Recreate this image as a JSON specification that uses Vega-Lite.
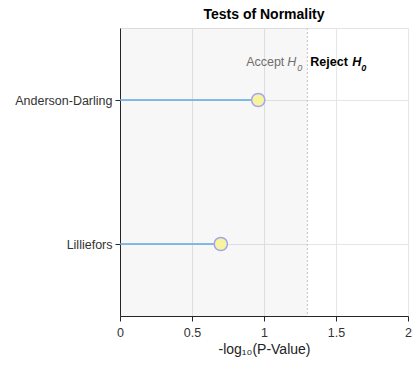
{
  "$schema": "https://vega.github.io/schema/vega-lite/v6.json",
  "width": 288,
  "height": 288,
  "autosize": {"type": "none"},
  "padding": {"left": 120, "top": 28, "right": 9, "bottom": 55},
  "background": "white",
  "config": {
    "font": "Liberation Sans",
    "view": {"stroke": "#e4e4e4"},
    "axis": {
      "domainColor": "#262626",
      "tickColor": "#262626",
      "tickSize": 5,
      "labelFontSize": 12.5,
      "labelColor": "#333333",
      "gridColor": "#e6e6e6",
      "titleFontWeight": "normal",
      "titleFontSize": 14,
      "titleColor": "#222222"
    }
  },
  "title": {"text": "Tests of Normality", "fontSize": 14, "fontWeight": "bold", "color": "#000000", "offset": 6},
  "datasets": {
    "tests": [
      {"test": "Anderson-Darling", "origin": 0, "neglogp": 0.96},
      {"test": "Lilliefors", "origin": 0, "neglogp": 0.70}
    ],
    "cutoff": [
      {"alpha": 0.05, "origin": 0, "neglogAlpha": 1.301, "row": "Anderson-Darling"}
    ]
  },
  "layer": [
    {
      "data": {"name": "cutoff"},
      "mark": {"type": "rect", "fill": "#000000", "fillOpacity": 0.03},
      "encoding": {
        "x": {
          "field": "origin",
          "type": "quantitative",
          "title": "-log₁₀(P-Value)",
          "scale": {"domain": [0, 2], "nice": false},
          "axis": {
            "values": [0, 0.5, 1, 1.5, 2],
            "format": "~g",
            "grid": true,
            "labelFlush": false,
            "labelPadding": 5,
            "titlePadding": 4
          }
        },
        "x2": {"field": "neglogAlpha"}
      }
    },
    {
      "data": {"name": "cutoff"},
      "mark": {"type": "rule", "color": "#c4c4c4", "strokeDash": [2, 2], "strokeWidth": 1},
      "encoding": {
        "x": {"field": "neglogAlpha", "type": "quantitative", "title": "-log₁₀(P-Value)"}
      }
    },
    {
      "data": {"name": "tests"},
      "mark": {"type": "rule", "color": "#5ea7e2", "strokeWidth": 1.6},
      "encoding": {
        "x": {"field": "origin", "type": "quantitative", "title": "-log₁₀(P-Value)"},
        "x2": {"field": "neglogp"},
        "y": {
          "field": "test",
          "type": "nominal",
          "scale": {"type": "point", "padding": 0.5},
          "axis": {"title": null, "grid": true, "labelPadding": 3}
        }
      }
    },
    {
      "data": {"name": "tests"},
      "mark": {"type": "point", "shape": "circle", "filled": false, "size": 175, "fill": "#f7f39e", "fillOpacity": 1, "stroke": "#a3a3f2", "strokeWidth": 1.5, "opacity": 1},
      "encoding": {
        "x": {"field": "neglogp", "type": "quantitative", "title": "-log₁₀(P-Value)"},
        "y": {"field": "test", "type": "nominal", "title": null}
      }
    },
    {
      "data": {"name": "cutoff"},
      "mark": {"type": "text", "text": "Accept", "align": "right", "baseline": "middle", "dx": -23, "dy": -38, "fontSize": 12.5, "color": "#6e6e6e"},
      "encoding": {
        "x": {"field": "neglogAlpha", "type": "quantitative", "title": "-log₁₀(P-Value)"},
        "y": {"field": "row", "type": "nominal", "title": null}
      }
    },
    {
      "data": {"name": "cutoff"},
      "mark": {"type": "text", "text": "H", "align": "left", "baseline": "middle", "dx": -20, "dy": -38, "fontSize": 12.5, "fontStyle": "italic", "color": "#6e6e6e"},
      "encoding": {
        "x": {"field": "neglogAlpha", "type": "quantitative", "title": "-log₁₀(P-Value)"},
        "y": {"field": "row", "type": "nominal", "title": null}
      }
    },
    {
      "data": {"name": "cutoff"},
      "mark": {"type": "text", "text": "0", "align": "left", "baseline": "middle", "dx": -10, "dy": -32, "fontSize": 9, "fontStyle": "italic", "color": "#6e6e6e"},
      "encoding": {
        "x": {"field": "neglogAlpha", "type": "quantitative", "title": "-log₁₀(P-Value)"},
        "y": {"field": "row", "type": "nominal", "title": null}
      }
    },
    {
      "data": {"name": "cutoff"},
      "mark": {"type": "text", "text": "Reject", "align": "left", "baseline": "middle", "dx": 3, "dy": -38, "fontSize": 12.5, "fontWeight": "bold", "color": "#000000"},
      "encoding": {
        "x": {"field": "neglogAlpha", "type": "quantitative", "title": "-log₁₀(P-Value)"},
        "y": {"field": "row", "type": "nominal", "title": null}
      }
    },
    {
      "data": {"name": "cutoff"},
      "mark": {"type": "text", "text": "H", "align": "left", "baseline": "middle", "dx": 45, "dy": -38, "fontSize": 12.5, "fontWeight": "bold", "fontStyle": "italic", "color": "#000000"},
      "encoding": {
        "x": {"field": "neglogAlpha", "type": "quantitative", "title": "-log₁₀(P-Value)"},
        "y": {"field": "row", "type": "nominal", "title": null}
      }
    },
    {
      "data": {"name": "cutoff"},
      "mark": {"type": "text", "text": "0", "align": "left", "baseline": "middle", "dx": 54, "dy": -32, "fontSize": 9, "fontWeight": "bold", "fontStyle": "italic", "color": "#000000"},
      "encoding": {
        "x": {"field": "neglogAlpha", "type": "quantitative", "title": "-log₁₀(P-Value)"},
        "y": {"field": "row", "type": "nominal", "title": null}
      }
    }
  ]
}
